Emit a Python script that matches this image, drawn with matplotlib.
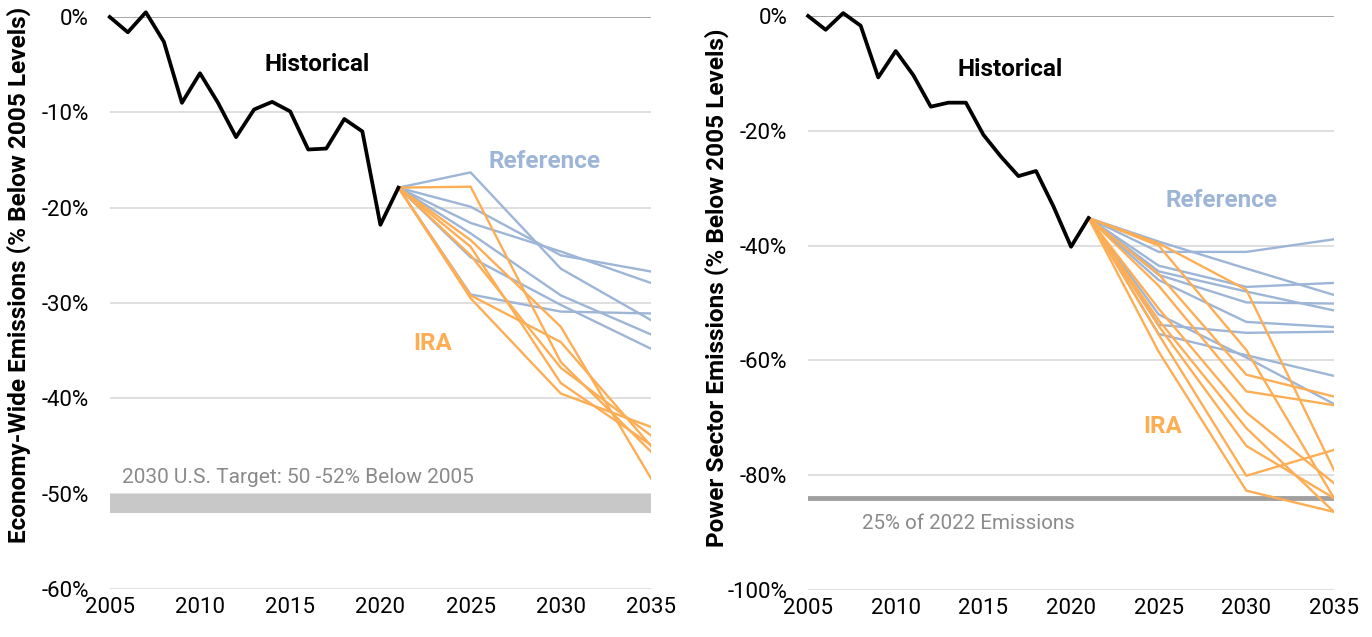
import matplotlib
matplotlib.use('Agg')
import matplotlib.pyplot as plt
import matplotlib.ticker as mticker

plt.rcParams['font.family'] = ['Roboto', 'DejaVu Sans']

# historical emissions, % change vs 2005
hist_years = list(range(2005, 2022))
econ_hist = [0.0, -1.6, 0.5, -2.6, -9.0, -5.9, -9.0, -12.6, -9.7, -8.9, -9.9,
             -13.9, -13.8, -10.7, -12.0, -21.8, -17.9]
power_hist = [0.0, -2.4, 0.5, -1.7, -10.7, -6.1, -10.3, -15.8, -15.1, -15.1, -20.7,
              -24.5, -27.9, -27.0, -33.2, -40.2, -35.2]

# projection years (start from last historical year)
proj_years = [2021, 2025, 2030, 2035]

# economy-wide scenarios (2025, 2030, 2035)
econ_ref = [
    [-16.3, -26.4, -31.8],
    [-19.9, -25.0, -26.7],
    [-21.6, -24.6, -27.9],
    [-22.7, -29.2, -33.3],
    [-25.2, -30.2, -34.8],
    [-29.1, -30.9, -31.1],
]
econ_ira = [
    [-17.8, -36.2, -45.6],
    [-23.4, -32.5, -48.4],
    [-24.1, -38.4, -44.9],
    [-25.0, -36.8, -43.9],
    [-29.2, -34.1, -45.0],
    [-29.5, -39.5, -43.0],
]

# power sector scenarios (2025, 2030, 2035)
power_ref = [
    [-41.1, -41.1, -38.9],
    [-39.3, -44.0, -48.6],
    [-43.5, -47.2, -46.5],
    [-44.5, -48.0, -51.3],
    [-45.1, -49.9, -50.1],
    [-46.0, -53.3, -54.2],
    [-53.8, -55.2, -55.0],
    [-55.4, -59.1, -62.7],
    [-52.0, -59.5, -67.6],
]
power_ira = [
    [-39.6, -47.7, -79.1],
    [-40.0, -58.2, -84.0],
    [-45.0, -62.5, -66.3],
    [-47.0, -65.4, -67.8],
    [-51.0, -69.1, -81.4],
    [-53.0, -71.8, -86.4],
    [-54.0, -74.9, -84.0],
    [-55.5, -80.1, -75.6],
    [-58.5, -82.7, -86.4],
]

ref_color = '#9DB5D6'
ira_color = '#FDAE55'
x_ticks = [2005, 2010, 2015, 2020, 2025, 2030, 2035]

fig = plt.figure(figsize=(13.72, 6.37), dpi=100)
ax1 = fig.add_axes([0.080, 0.0754, 0.3945, 0.8979])
ax2 = fig.add_axes([0.589, 0.0738, 0.3833, 0.9011])


def style(ax, ymin, step, ylabel, label_xy):
    ax.set_xlim(2005, 2035)
    ax.set_ylim(ymin, 0)
    ax.set_xticks(x_ticks)
    ax.set_yticks(range(ymin, 1, step))
    ax.yaxis.set_major_formatter(mticker.FuncFormatter(lambda v, p: f'{v:.0f}%'))
    for s in ax.spines.values():
        s.set_visible(False)
    ax.grid(axis='y', color='#d9d9d9', linewidth=1.2)
    ax.axhline(0, color='#a0a0a0', linewidth=1.2, zorder=1)
    ax.tick_params(axis='x', length=0, labelsize=16, pad=6)
    ax.tick_params(axis='y', length=0, labelsize=16, pad=15)
    ax.set_axisbelow(True)
    ax.set_ylabel(ylabel, fontsize=17.6, fontweight='bold')
    ax.yaxis.set_label_coords(*label_xy)


style(ax1, -60, 10, 'Economy-Wide Emissions (% Below 2005 Levels)', (-0.146, 0.549))
style(ax2, -100, 20, 'Power Sector Emissions (% Below 2005 Levels)', (-0.150, 0.526))

# left panel
ax1.axhspan(-52, -50, color='#c8c8c8', lw=0, zorder=1)
ax1.text(2005.7, -48.9, '2030 U.S. Target: 50 -52% Below 2005', fontsize=15,
         color='#8a8a8a')
for row in econ_ref:
    ax1.plot(proj_years, [econ_hist[-1]] + row, color=ref_color, lw=1.7, zorder=2)
for row in econ_ira:
    ax1.plot(proj_years, [econ_hist[-1]] + row, color=ira_color, lw=1.7, zorder=3)
ax1.plot(hist_years, econ_hist, color='black', lw=2.7, zorder=4, clip_on=False)
ax1.text(2016.5, -5.0, 'Historical', fontsize=17.5, fontweight='bold', ha='center', va='center')
ax1.text(2029.1, -15.2, 'Reference', fontsize=17.5, fontweight='bold', color=ref_color,
         ha='center', va='center')
ax1.text(2022.9, -34.2, 'IRA', fontsize=17.5, fontweight='bold', color=ira_color,
         ha='center', va='center')

# right panel
ax2.axhline(-84, color='#a0a0a0', lw=3.5, zorder=1)
ax2.text(2008.1, -88.5, '25% of 2022 Emissions', fontsize=14.8, color='#8a8a8a', va='center')
for row in power_ref:
    ax2.plot(proj_years, [power_hist[-1]] + row, color=ref_color, lw=1.7, zorder=2)
for row in power_ira:
    ax2.plot(proj_years, [power_hist[-1]] + row, color=ira_color, lw=1.7, zorder=3)
ax2.plot(hist_years, power_hist, color='black', lw=2.7, zorder=4, clip_on=False)
ax2.text(2016.5, -9.4, 'Historical', fontsize=17.5, fontweight='bold', ha='center', va='center')
ax2.text(2028.6, -32.2, 'Reference', fontsize=17.5, fontweight='bold', color=ref_color,
         ha='center', va='center')
ax2.text(2025.2, -71.6, 'IRA', fontsize=17.5, fontweight='bold', color=ira_color,
         ha='center', va='center')

fig.savefig('out.png', dpi=100)
